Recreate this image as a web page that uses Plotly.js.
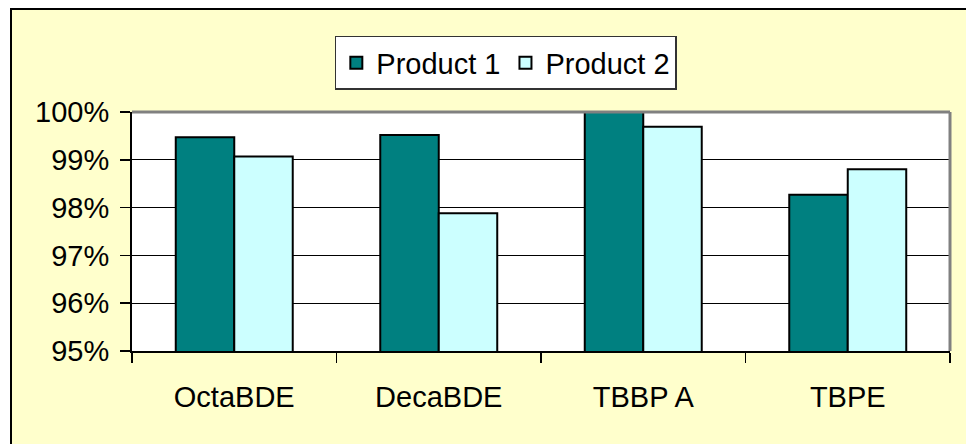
<!DOCTYPE html>
<html>
<head>
<meta charset="utf-8">
<script src="https://cdn.plot.ly/plotly-3.0.1.min.js"></script>
<style>
  html, body { margin: 0; padding: 0; background: #ffffff; width: 966px; height: 444px; overflow: hidden; }
  #frame { position: absolute; left: 10px; top: 8px; width: 956px; height: 436px;
           border-left: 2px solid #000; border-top: 2px solid #000; background: #FFFFCC; }
  #chart { width: 954px; height: 434px; }
</style>
</head>
<body>
<div id="frame"><div id="chart"></div></div>
<script>
// Data
var categories = ["OctaBDE", "DecaBDE", "TBBP A", "TBPE"];
var product1 = [99.47, 99.52, 100.0, 98.27];
var product2 = [99.07, 97.88, 99.69, 98.80];
var seriesNames = ["Product 1", "Product 2"];
var yTickValues = [95, 96, 97, 98, 99, 100];
var yTickLabels = ["95%", "96%", "97%", "98%", "99%", "100%"];

var FONT = "Liberation Sans, Arial, Helvetica, sans-serif";
var FS = 29;

var traces = [
  {
    type: "bar", name: seriesNames[0], x: categories, y: product1,
    marker: { color: "#008080", line: { color: "#000000", width: 2 } },
    hoverinfo: "skip"
  },
  {
    type: "bar", name: seriesNames[1], x: categories, y: product2,
    marker: { color: "#CCFFFF", line: { color: "#000000", width: 2 } },
    hoverinfo: "skip"
  }
];

var layout = {
  width: 954, height: 434,
  margin: { l: 120, r: 16, t: 102, b: 93, pad: 0 },
  paper_bgcolor: "#FFFFCC",
  plot_bgcolor: "#FFFFFF",
  font: { family: FONT, size: FS, color: "#000000" },
  barmode: "group",
  bargap: 0.428,
  bargroupgap: 0,
  showlegend: true,
  legend: {
    orientation: "h",
    x: 0.457, xanchor: "center",
    y: 1.318, yanchor: "top",
    bgcolor: "#FFFFFF",
    bordercolor: "#333333",
    borderwidth: 1.5,
    font: { family: FONT, size: FS, color: "#000000" },
    traceorder: "normal"
  },
  xaxis: {
    type: "category",
    showgrid: false,
    showline: true, linecolor: "#000000", linewidth: 2,
    ticks: "outside", tickson: "boundaries", ticklen: 10, tickcolor: "#000000", tickwidth: 1.5,
    ticklabelstandoff: 19,
    tickfont: { family: FONT, size: FS, color: "#000000" },
    fixedrange: true
  },
  yaxis: {
    range: [95, 100],
    tickmode: "array",
    tickvals: yTickValues,
    ticktext: yTickLabels,
    showgrid: true, gridcolor: "#000000", gridwidth: 1,
    showline: true, linecolor: "#000000", linewidth: 2,
    ticks: "outside", ticklen: 10, tickcolor: "#000000", tickwidth: 1.5,
    ticklabelstandoff: 5,
    zeroline: false,
    tickfont: { family: FONT, size: FS, color: "#000000" },
    fixedrange: true
  },
  shapes: [
    { type: "line", xref: "paper", yref: "paper", x0: 0, x1: 1, y0: 1, y1: 1,
      line: { color: "#808080", width: 3 }, layer: "above" },
    { type: "line", xref: "paper", yref: "paper", x0: 1, x1: 1, y0: 0, y1: 1,
      line: { color: "#808080", width: 3 }, layer: "above" }
  ]
};

Plotly.newPlot("chart", traces, layout, { displayModeBar: false, staticPlot: true });
</script>
</body>
</html>
